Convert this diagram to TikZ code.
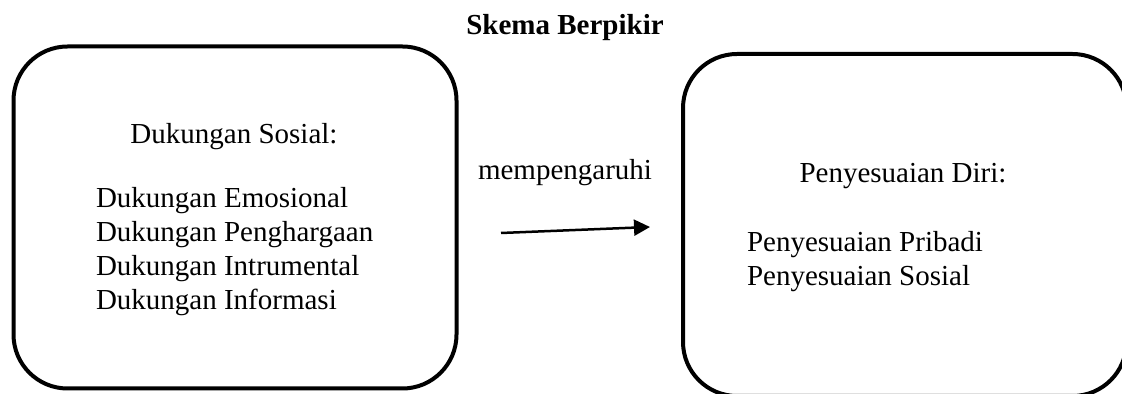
\documentclass[tikz,border=0pt]{standalone}
\usepackage{fontspec}
\setmainfont{Liberation Serif}
\usetikzlibrary{arrows.meta}
\begin{document}
\begin{tikzpicture}[x=0.5pt,y=-0.5pt,
  every node/.style={inner sep=0pt,outer sep=0pt,font=\fontsize{14.5pt}{17pt}\selectfont},
  bigbox/.style={draw,line width=2pt,rounded corners=27pt},
  txt/.style={anchor=base west},
  head/.style={anchor=base},
  link/.style={line width=1.25pt,-{Triangle[length=8pt,width=8pt]}}]
\useasboundingbox (0,0) rectangle (1122,394);
\path[bigbox] (13.5,46.5) rectangle (456.5,388.5);
\path[bigbox] (683,54) rectangle (1126.5,396);
\node[head,font=\fontsize{14.5pt}{17pt}\selectfont\bfseries] (title) at (565,35) {Skema Berpikir};
\node[head] (lh) at (234,144) {Dukungan Sosial:};
\node[txt] (l1) at (96,208) {Dukungan Emosional};
\node[txt] (l2) at (96,242) {Dukungan Penghargaan};
\node[txt] (l3) at (96,276) {Dukungan Intrumental};
\node[txt] (l4) at (96,310) {Dukungan Informasi};
\node[head] (rh) at (903,183) {Penyesuaian Diri:};
\node[txt] (r1) at (747,252) {Penyesuaian Pribadi};
\node[txt] (r2) at (747,286) {Penyesuaian Sosial};
\node[txt] (lab) at (478,180) {mempengaruhi};
\coordinate (as) at (501,233);
\coordinate (ae) at (650,227);
\draw[link] (as) -- (ae);
\end{tikzpicture}
\end{document}
